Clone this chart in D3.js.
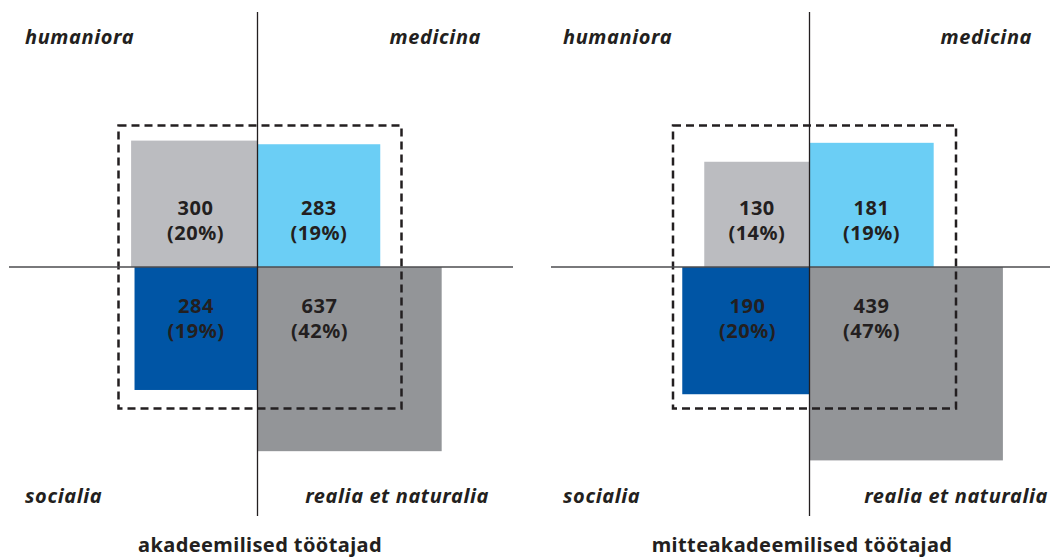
<!DOCTYPE html>
<html>
<head>
<meta charset="utf-8">
<script src="https://cdn.jsdelivr.net/npm/d3@7"></script>
<style>
  body { margin: 0; background: #fff; }
  text { font-family: "Noto Sans", "Open Sans", sans-serif; fill: #231f20; }
</style>
</head>
<body>
<div id="chart"></div>
<script>
// categories in quadrant order: top-left, top-right, bottom-left, bottom-right
const categories = ["humaniora", "medicina", "socialia", "realia et naturalia"];
const colors = ["#bbbcc0", "#6bcef5", "#0055a5", "#939598"];
const groups = ["akadeemilised töötajad", "mitteakadeemilised töötajad"];
const academic = [300, 283, 284, 637];
const nonAcademic = [130, 181, 190, 439];

const width = 1050, height = 558;
const cy = 267;
// layout of the two panels
const panels = [
    {cx: 257.5, left: 25, right: 481, realiaRight: 489, title: 260, x1: 9, x2: 513, shift: 2.5, values: academic},
    {cx: 809.5, left: 563, right: 1032, realiaRight: 1048, title: 802, x1: 551, x2: 1050, shift: 5, values: nonAcademic}
];

const svg = d3.select("#chart")
    .append("svg")
    .attr("width", width)
    .attr("height", height);

// side of a square from its share of the total (dashed square = whole total)
const side = d3.scaleSqrt().domain([0, 1]).range([0, 283]);

panels.forEach((p, i) => {
    const total = d3.sum(p.values);
    const data = p.values.map((v, j) => ({
        name: categories[j],
        value: v,
        share: v / total,
        s: side(v / total),
        top: j < 2,
        leftSide: j % 2 === 0,
        color: colors[j]
    }));

    const g = svg.append("g");

    g.selectAll("rect.sq")
        .data(data)
        .enter().append("rect")
        .attr("class", "sq")
        .attr("x", d => d.leftSide ? p.cx - d.s : p.cx)
        .attr("y", d => d.top ? cy - d.s : cy)
        .attr("width", d => d.s)
        .attr("height", d => d.s)
        .attr("fill", d => d.color);

    // total square
    const S = side(1);
    g.append("rect")
        .attr("x", p.cx - S / 2 + p.shift)
        .attr("y", cy - S / 2)
        .attr("width", S)
        .attr("height", S)
        .attr("fill", "none")
        .attr("stroke", "#231f20")
        .attr("stroke-width", 2.5)
        .attr("stroke-dasharray", "8,5");

    // axes
    g.append("line")
        .attr("x1", p.x1).attr("x2", p.x2)
        .attr("y1", cy).attr("y2", cy)
        .attr("stroke", "#4d4d4f").attr("stroke-width", 1.3);
    g.append("line")
        .attr("x1", p.cx).attr("x2", p.cx)
        .attr("y1", 12).attr("y2", 516)
        .attr("stroke", "#231f20").attr("stroke-width", 1.3);

    // value labels
    const lab = g.selectAll("g.lab")
        .data(data)
        .enter().append("g")
        .attr("class", "lab")
        .attr("transform", d => {
            const off = Math.min(d.s, 124) / 2;
            const x = d.leftSide ? p.cx - off : p.cx + off;
            return `translate(${x},${d.top ? cy - 52 : cy + 46})`;
        })
        .attr("text-anchor", "middle")
        .style("font-size", "20px")
        .style("font-weight", 700)
        .style("letter-spacing", "0.5px");
    lab.append("text").text(d => d.value);
    lab.append("text").attr("y", 25).text(d => `(${Math.round(d.share * 100)}%)`);

    // category labels
    g.selectAll("text.cat")
        .data(data)
        .enter().append("text")
        .attr("class", "cat")
        .attr("x", (d, j) => d.leftSide ? p.left : (j === 3 ? p.realiaRight : p.right))
        .attr("y", d => d.top ? 44 : 503)
        .attr("text-anchor", d => d.leftSide ? "start" : "end")
        .style("font-size", "20px")
        .style("font-weight", 700)
        .style("font-style", "italic")
        .style("letter-spacing", "0.6px")
        .text(d => d.name);

    g.append("text")
        .attr("x", p.title)
        .attr("y", 552)
        .attr("text-anchor", "middle")
        .style("font-size", "20px")
        .style("font-weight", 700)
        .style("letter-spacing", "0.4px")
        .text(groups[i]);
});
</script>
</body>
</html>
